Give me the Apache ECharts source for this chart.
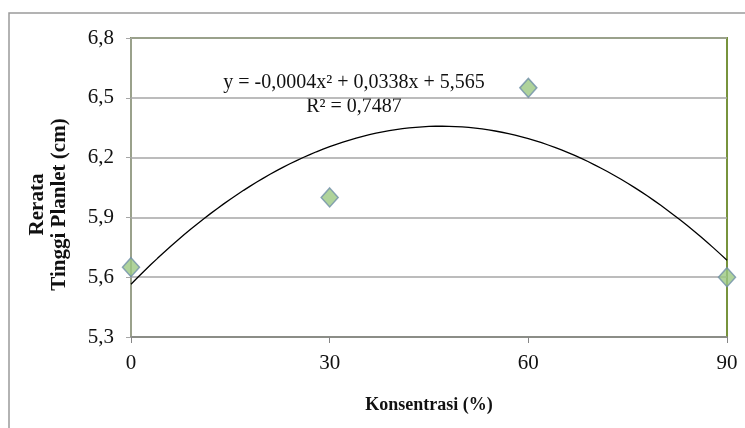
<!DOCTYPE html>
<html><head><meta charset="utf-8">
<script src="https://cdn.jsdelivr.net/npm/echarts@6/dist/echarts.min.js"></script>
<style>html,body{margin:0;padding:0;background:#fff}#c{width:745px;height:428px}</style>
</head><body><div id="c"></div>
<script>
const konsentrasi = [0, 30, 60, 90];
const rerataTinggi = [5.65, 6.0, 6.55, 5.6];
const yTicks = [5.3, 5.6, 5.9, 6.2, 6.5, 6.8];
const xTicks = [0, 30, 60, 90];
const equationText = 'y = -0,0004x² + 0,0338x + 5,565';
const r2Text = 'R² = 0,7487';

// least-squares quadratic fit of the data (Excel polynomial trendline)
function quadFit(xs, ys) {
  let S = [0,0,0,0,0], T = [0,0,0];
  for (let i = 0; i < xs.length; i++) {
    let p = 1;
    for (let k = 0; k < 5; k++) { S[k] += p; if (k < 3) T[k] += p * ys[i]; p *= xs[i]; }
  }
  const A = [[S[0],S[1],S[2],T[0]],[S[1],S[2],S[3],T[1]],[S[2],S[3],S[4],T[2]]];
  for (let i = 0; i < 3; i++) {
    for (let j = i + 1; j < 3; j++) {
      const f = A[j][i] / A[i][i];
      for (let k = i; k < 4; k++) A[j][k] -= f * A[i][k];
    }
  }
  const c = [0,0,0];
  for (let i = 2; i >= 0; i--) {
    let s = A[i][3];
    for (let k = i + 1; k < 3; k++) s -= A[i][k] * c[k];
    c[i] = s / A[i][i];
  }
  return c;
}
const coef = quadFit(konsentrasi, rerataTinggi);
const trend = [];
for (let x = konsentrasi[0]; x <= konsentrasi[konsentrasi.length-1] + 1e-9; x += 1) {
  trend.push([x, coef[0] + coef[1]*x + coef[2]*x*x]);
}

const serif = 'Liberation Serif';
const chart = echarts.init(document.getElementById('c'), null, {renderer: 'canvas'});
chart.setOption({
  animation: false,
  backgroundColor: '#fff',
  graphic: [
    {type: 'rect', shape: {x: 9, y: 13, width: 800, height: 500},
     style: {fill: 'none', stroke: '#9a9a9a', lineWidth: 1.5}, z: -1},
    {type: 'text', x: 354, y: 83, style: {text: equationText, font: '20px "Liberation Serif"', fill: '#111', align: 'center', verticalAlign: 'middle'}},
    {type: 'text', x: 354, y: 107, style: {text: r2Text, font: '20px "Liberation Serif"', fill: '#111', align: 'center', verticalAlign: 'middle'}}
  ],
  grid: {left: 131, right: 18, top: 38, bottom: 91, show: true, borderColor: '#77933c', borderWidth: 2, backgroundColor: 'transparent'},
  xAxis: {
    type: 'value', min: 0, max: 90, interval: 30,
    name: 'Konsentrasi (%)', nameLocation: 'middle', nameGap: 59,
    nameTextStyle: {fontFamily: serif, fontWeight: 'bold', fontSize: 18, color: '#111'},
    axisLine: {show: true, lineStyle: {color: '#868686', width: 1.5}},
    axisTick: {show: true, length: 6, lineStyle: {color: '#868686'}},
    splitLine: {show: false},
    axisLabel: {fontFamily: serif, fontSize: 21, color: '#111', margin: 16,
      formatter: v => xTicks.includes(v) ? String(v) : ''}
  },
  yAxis: {
    type: 'value', min: yTicks[0], max: yTicks[yTicks.length-1], interval: 0.3,
    name: 'Rerata\nTinggi Planlet (cm)', nameLocation: 'middle', nameGap: 60, nameRotate: 90,
    nameTextStyle: {fontFamily: serif, fontWeight: 'bold', fontSize: 21, color: '#111', lineHeight: 22, padding: [0, 34, 0, 0]},
    axisLine: {show: true, lineStyle: {color: '#a6a6a6', width: 1.5}},
    axisTick: {show: true, length: 5, lineStyle: {color: '#a6a6a6'}},
    splitLine: {show: true, lineStyle: {color: '#a6a6a6', width: 1.5}},
    axisLabel: {fontFamily: serif, fontSize: 21, color: '#111', margin: 17,
      formatter: v => v.toFixed(1).replace('.', ',')}
  },
  series: [
    {type: 'line', data: trend, showSymbol: false, smooth: false,
     lineStyle: {color: '#000', width: 1.3}, z: 3},
    {type: 'scatter', data: konsentrasi.map((x, i) => [x, rerataTinggi[i]]),
     symbol: 'diamond', symbolSize: [17, 19],
     itemStyle: {color: '#9bc882', borderColor: '#6f8fa8', borderWidth: 1.5}, z: 4}
  ]
});
</script></body></html>
